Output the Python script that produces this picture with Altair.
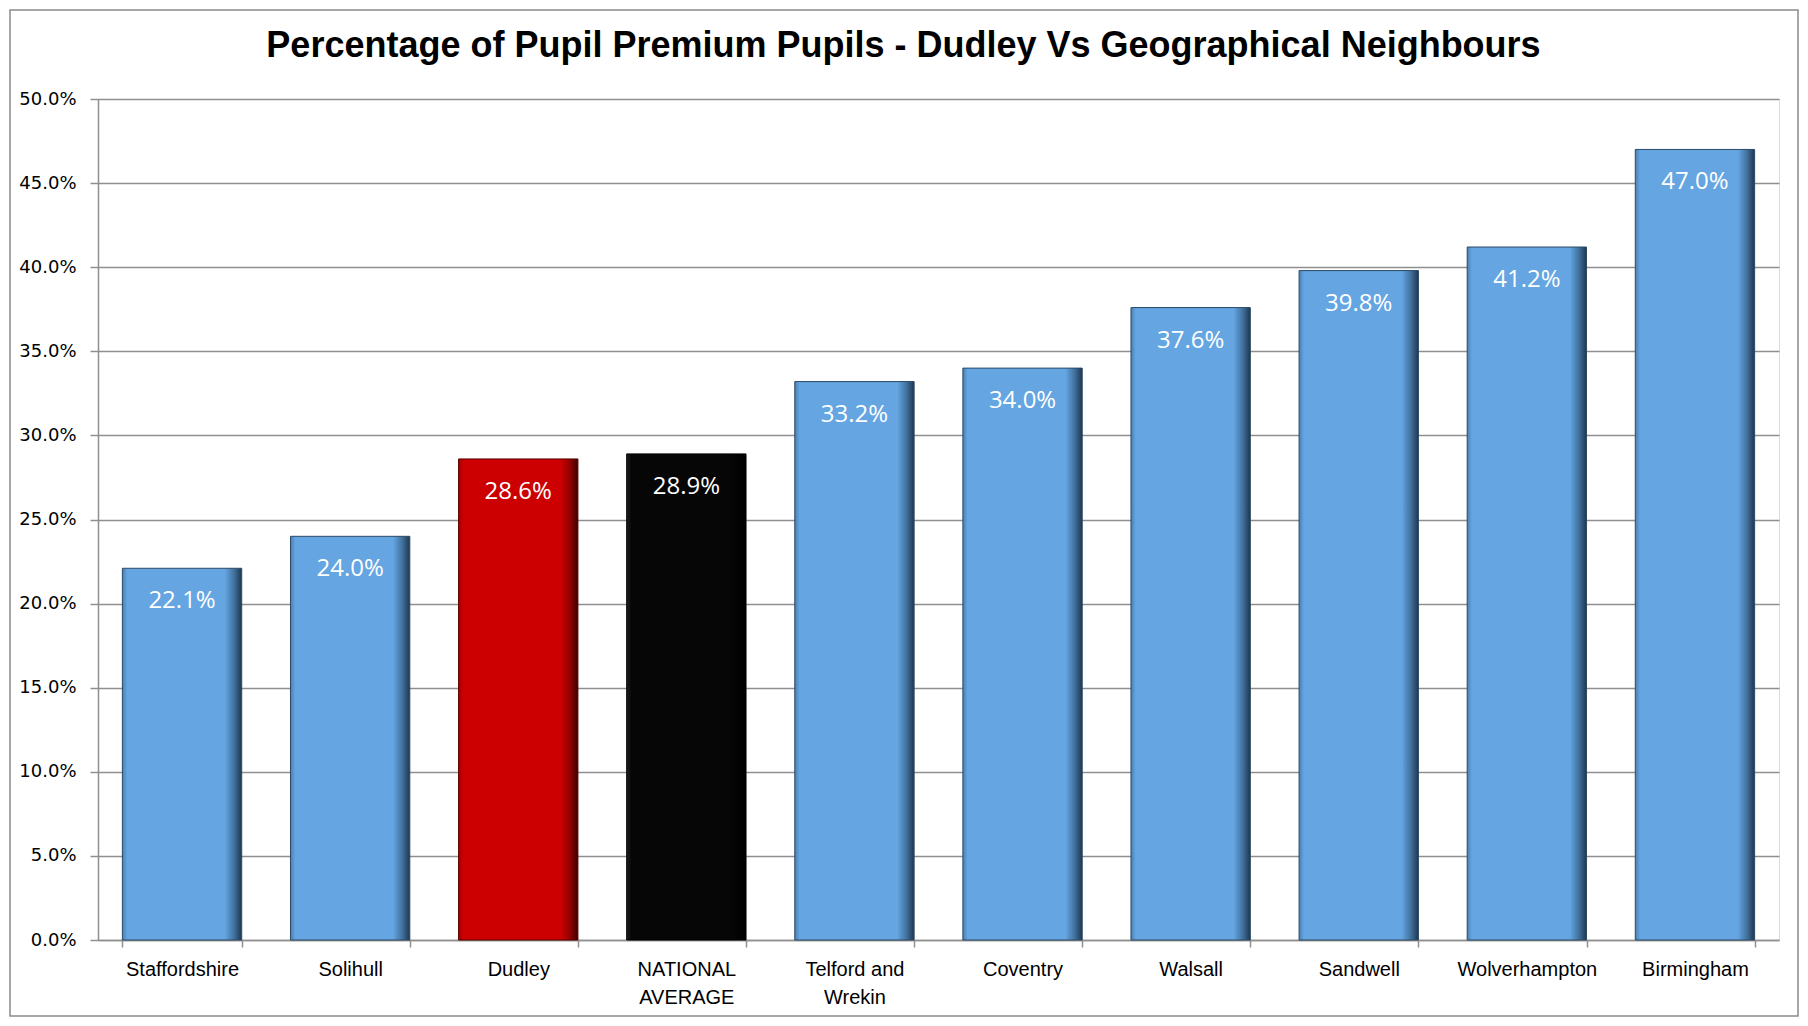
import altair as alt
import pandas as pd

categories = ["Staffordshire", "Solihull", "Dudley", "NATIONAL AVERAGE", "Telford and Wrekin",
              "Coventry", "Walsall", "Sandwell", "Wolverhampton", "Birmingham"]
values = [0.221, 0.240, 0.286, 0.289, 0.332, 0.340, 0.376, 0.398, 0.412, 0.470]
groups = ["other", "other", "dudley", "national", "other", "other", "other", "other", "other", "other"]
y_ticks = [0.0, 0.05, 0.10, 0.15, 0.20, 0.25, 0.30, 0.35, 0.40, 0.45, 0.50]

df = pd.DataFrame({"name": categories, "value": values, "group": groups})

W, H = 1681, 841

def grad(edge_l, main, shade, edge_r):
    return alt.Gradient(
        gradient="linear", x1=0, x2=1, y1=0, y2=0,
        stops=[
            alt.GradientStop(color=edge_l, offset=0),
            alt.GradientStop(color=main, offset=0.04),
            alt.GradientStop(color=main, offset=0.86),
            alt.GradientStop(color=shade, offset=0.94),
            alt.GradientStop(color=edge_r, offset=1),
        ],
    )

x_enc = alt.X(
    "name:N", sort=categories, title=None,
    scale=alt.Scale(paddingInner=0.29, paddingOuter=0.145),
    axis=alt.Axis(
        labelAngle=0, labelFont="Liberation Sans", labelFontSize=20, labelColor="#000",
        labelLineHeight=28, labelPadding=12, tickBand="extent", tickSize=7,
        tickColor="#8f8f8f", domainColor="#8f8f8f", domainWidth=1.5, tickWidth=1.5,
        grid=False,
        labelExpr="datum.label == 'Telford and Wrekin' ? ['Telford and', 'Wrekin'] : "
                  "datum.label == 'NATIONAL AVERAGE' ? ['NATIONAL', 'AVERAGE'] : datum.label",
    ),
)
y_enc = alt.Y(
    "value:Q", title=None,
    scale=alt.Scale(domain=[0, 0.5], nice=False),
    axis=alt.Axis(
        values=y_ticks, format=".1%", labelFont="DejaVu Sans", labelFontSize=18,
        labelColor="#000", labelPadding=14, tickSize=8, tickColor="#8f8f8f",
        tickWidth=1.5, domainColor="#8f8f8f", domainWidth=1.5,
        grid=True, gridColor="#8f8f8f", gridWidth=1.5,
    ),
)

base = alt.Chart(df).encode(x=x_enc, y=y_enc)

blue = base.transform_filter("datum.group == 'other'").mark_bar(
    fill=grad("#4a7fb2", "#64a5e2", "#3f6e9a", "#1f364d"), stroke="#2c4a66", strokeWidth=1)
red = base.transform_filter("datum.group == 'dudley'").mark_bar(
    fill=grad("#a30000", "#cc0000", "#8a0000", "#3a0000"), stroke="#5a0000", strokeWidth=1)
black = base.transform_filter("datum.group == 'national'").mark_bar(
    fill=grad("#202020", "#060606", "#030303", "#000000"), stroke="#000", strokeWidth=1)

labels = base.mark_text(
    color="white", font="Open Sans", fontSize=24, baseline="alphabetic", dy=40,
).encode(text=alt.Text("value:Q", format=".1%"))

border = alt.Chart(pd.DataFrame({"a": [0]})).mark_rect(
    fill=None, stroke="#8a8a8a", strokeWidth=1.5
).encode(
    x=alt.value(-88), x2=alt.value(W + 19),
    y=alt.value(-89), y2=alt.value(H + 76),
)

chart = alt.layer(blue, red, black, labels, border).properties(
    width=W, height=H,
    autosize=alt.AutoSizeParams(type="none"),
    padding={"left": 90, "top": 91, "right": 21, "bottom": 78},
    title=alt.TitleParams(
        "Percentage of Pupil Premium Pupils - Dudley Vs Geographical Neighbours",
        font="Liberation Sans", fontSize=36, fontWeight="bold", color="#000",
        anchor="middle", baseline="alphabetic", offset=-84, dx=-35,
    ),
).configure_view(stroke=None).configure(background="white")

chart.save("out.html", embed_options={"renderer": "svg", "actions": False})
